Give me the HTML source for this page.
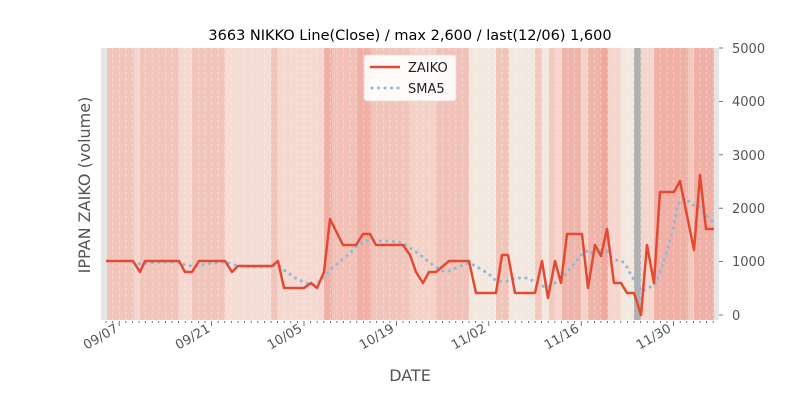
<!DOCTYPE html>
<html><head><meta charset="utf-8"><style>
html,body{margin:0;padding:0;background:#fff;width:800px;height:400px;overflow:hidden}
text{font-family:"DejaVu Sans","Liberation Sans",sans-serif}
</style></head><body>
<svg width="800" height="400" viewBox="0 0 800 400" xmlns="http://www.w3.org/2000/svg">
<rect x="101" y="48" width="618" height="272" fill="#e5e5e5"/>
<g stroke="none">
<rect x="107" y="48" width="27" height="272" fill="#f2c5bb"/>
<rect x="134" y="48" width="6" height="272" fill="#f5d5cc"/>
<rect x="140" y="48" width="39" height="272" fill="#f2c5bb"/>
<rect x="179" y="48" width="13" height="272" fill="#f5d8d0"/>
<rect x="192" y="48" width="33" height="272" fill="#f2c5bb"/>
<rect x="225" y="48" width="46" height="272" fill="#f5dcd4"/>
<rect x="271" y="48" width="7" height="272" fill="#f2c5bb"/>
<rect x="278" y="48" width="46" height="272" fill="#f5d8d0"/>
<rect x="324" y="48" width="8" height="272" fill="#f0b0a5"/>
<rect x="332" y="48" width="25" height="272" fill="#f2c2b8"/>
<rect x="357" y="48" width="14" height="272" fill="#f0b0a5"/>
<rect x="371" y="48" width="39" height="272" fill="#f2c5bb"/>
<rect x="410" y="48" width="26" height="272" fill="#f5d2c8"/>
<rect x="436" y="48" width="33" height="272" fill="#f2c2b8"/>
<rect x="469" y="48" width="27" height="272" fill="#f3e8e0"/>
<rect x="496" y="48" width="13" height="272" fill="#f2c5bb"/>
<rect x="509" y="48" width="26" height="272" fill="#f3e8e0"/>
<rect x="535" y="48" width="7" height="272" fill="#f3c8bd"/>
<rect x="542" y="48" width="7" height="272" fill="#f3e8e0"/>
<rect x="549" y="48" width="6" height="272" fill="#f3c8bd"/>
<rect x="555" y="48" width="7" height="272" fill="#f5d5cc"/>
<rect x="562" y="48" width="19" height="272" fill="#f0b5aa"/>
<rect x="581" y="48" width="7" height="272" fill="#f5d2c8"/>
<rect x="588" y="48" width="13" height="272" fill="#f0b5aa"/>
<rect x="601" y="48" width="7" height="272" fill="#efa89c"/>
<rect x="608" y="48" width="13" height="272" fill="#f5d5cc"/>
<rect x="621" y="48" width="13" height="272" fill="#f3e8e0"/>
<rect x="634" y="48" width="7" height="272" fill="#b0b0b0"/>
<rect x="641" y="48" width="13" height="272" fill="#f5d5cc"/>
<rect x="654" y="48" width="34" height="272" fill="#f0b0a5"/>
<rect x="688" y="48" width="6" height="272" fill="#f5c8bd"/>
<rect x="694" y="48" width="20" height="272" fill="#f0b0a5"/>
</g>
<g id="grid" stroke="#ffffff" stroke-opacity="0.45" stroke-width="0.8" stroke-dasharray="3,3"></g>
<g id="ticks" stroke="#555" stroke-width="0.8"></g>
<polyline fill="none" stroke="#8fb8d8" stroke-width="3" stroke-dasharray="0.1,6.4" stroke-linecap="round" points="133,262 140,264 160,262 180,262 185,265 192,266 199,265 225,262 232,264 238,266 260,267 272,266 278,265 284,270 291,275 297,279 304,282 311,285 317,285 324,277 330,270 337,264 343,259 350,253 356,247 363,242 370,240 376,241 390,241 396,242 403,243 410,248 416,252 423,257 429,262 436,267 443,271 449,271 456,268 463,265 469,263 476,266 482,270 489,274 495,280 502,282 508,281 515,278 522,278 528,278 535,282 541,286 548,287 555,283 561,279 567,272 575,263 580,256 586,251 591,254 595,248 600,250 606,250 611,257 616,260 622,261 627,267 632,277 638,285 642,292 647,288 654,286 660,272 667,251 673,230 678,204 686,198 692,205 698,205 704,213 713,222"/>
<polyline fill="none" stroke="#e24a33" stroke-width="2.5" stroke-linejoin="round" points="106,261 133,261 140,272 145,261 179,261 185,272 192,272 199,261 225,261 232,272 238,266 272,266 278,261 284,288 304,288 311,283 317,288 324,272 330,219 343,245 356,245 363,234 370,234 376,245 403,245 410,255 416,272 423,283 429,272 436,272 449,261 469,261 476,293 496,293 502,255 508,255 515,293 535,293 542,261 548,298 555,261 561,283 567,234 582,234 588,288 595,245 601,256 607,229 614,283 621,283 627,293 634,293 641,315 647,245 654,283 660,192 674,192 680,181 694,250 700,175 706,229 714,229"/>
<g stroke="#555" stroke-width="0.8">
<line x1="719" y1="48" x2="723" y2="48"/><line x1="719" y1="101.4" x2="723" y2="101.4"/><line x1="719" y1="154.8" x2="723" y2="154.8"/><line x1="719" y1="208.2" x2="723" y2="208.2"/><line x1="719" y1="261.6" x2="723" y2="261.6"/><line x1="719" y1="315" x2="723" y2="315"/>
</g>
<g font-size="13" fill="#555">
<text x="732" y="53">5000</text><text x="732" y="106">4000</text><text x="732" y="160">3000</text><text x="732" y="213">2000</text><text x="732" y="266">1000</text><text x="732" y="320">0</text>
</g>
<g font-size="13" fill="#555" text-anchor="end">
<text transform="translate(119,331) rotate(-30)">09/07</text>
<text transform="translate(211,331) rotate(-30)">09/21</text>
<text transform="translate(303,331) rotate(-30)">10/05</text>
<text transform="translate(395,331) rotate(-30)">10/19</text>
<text transform="translate(487,331) rotate(-30)">11/02</text>
<text transform="translate(580,331) rotate(-30)">11/16</text>
<text transform="translate(672,331) rotate(-30)">11/30</text>
</g>
<text x="410" y="381" font-size="16" fill="#555" text-anchor="middle">DATE</text>
<text transform="translate(90,185) rotate(-90)" font-size="16" fill="#555" text-anchor="middle">IPPAN ZAIKO (volume)</text>
<text x="410" y="40" font-size="14.5" fill="#000" text-anchor="middle">3663 NIKKO Line(Close) / max 2,600 / last(12/06) 1,600</text>
<rect x="364" y="55" width="92" height="46" rx="3" fill="#fff" fill-opacity="0.9" stroke="#ddd" stroke-width="0.8"/>
<line x1="370" y1="67" x2="400" y2="67" stroke="#e24a33" stroke-width="2.5"/>
<line x1="372" y1="88" x2="400" y2="88" stroke="#8fb8d8" stroke-width="3" stroke-dasharray="0.1,6.4" stroke-linecap="round"/>
<text x="408" y="72" font-size="13" fill="#222">ZAIKO</text>
<text x="408" y="93" font-size="13" fill="#222">SMA5</text>
</svg>
<script>
var g=document.getElementById('grid'),t=document.getElementById('ticks'),ns='http://www.w3.org/2000/svg';
for(var i=0;i<93;i++){var x=106+6.6*i;
var l=document.createElementNS(ns,'line');l.setAttribute('x1',x);l.setAttribute('x2',x);l.setAttribute('y1',48);l.setAttribute('y2',320);g.appendChild(l);
var m=document.createElementNS(ns,'line');m.setAttribute('x1',x);m.setAttribute('x2',x);m.setAttribute('y1',321);m.setAttribute('y2',((i-2)%14==0)?326:323);t.appendChild(m);}
</script>
</body></html>
